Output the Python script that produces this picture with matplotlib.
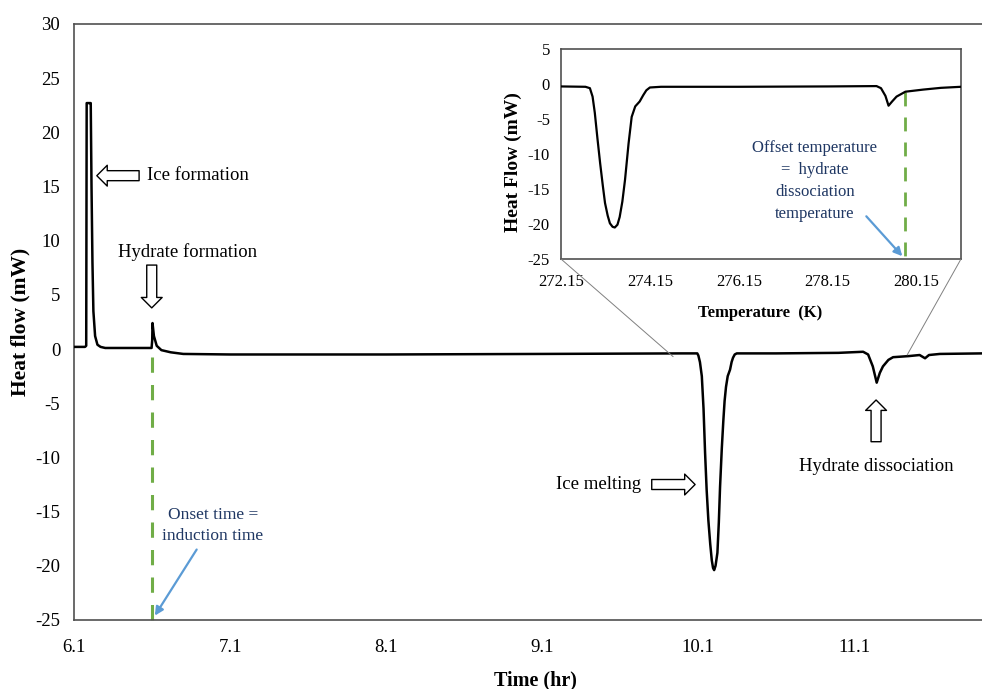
import matplotlib
matplotlib.use("Agg")
import matplotlib.pyplot as plt
from matplotlib.patches import ConnectionPatch

plt.rcParams['font.family'] = ['Liberation Serif', 'DejaVu Serif']
plt.rcParams['axes.unicode_minus'] = False

# ---------------- data ----------------
time_hr = [6.10, 6.17, 6.178, 6.181, 6.205, 6.207, 6.212, 6.218, 6.224, 6.235, 6.25, 6.27, 6.30,
           6.40, 6.50, 6.597, 6.601, 6.603, 6.612, 6.63, 6.66, 6.72, 6.80, 7.10, 8.10, 9.10,
           10.00, 10.095, 10.102, 10.112, 10.124, 10.135, 10.145, 10.155, 10.166, 10.178,
           10.188, 10.196, 10.203, 10.212, 10.224, 10.233, 10.241, 10.252, 10.262, 10.27,
           10.279, 10.29, 10.305, 10.315, 10.324, 10.335, 10.348, 10.60, 11.00, 11.158,
           11.19, 11.22, 11.245, 11.265, 11.285, 11.32, 11.35, 11.45, 11.52, 11.555, 11.58,
           11.65, 11.92]
heat_flow = [0.2, 0.2, 0.3, 22.7, 22.7, 22.7, 15.0, 8.0, 3.5, 1.2, 0.4, 0.2, 0.1,
             0.1, 0.1, 0.1, 0.8, 2.4, 1.2, 0.3, -0.1, -0.3, -0.45, -0.5, -0.5, -0.45,
             -0.4, -0.4, -0.6, -1.2, -2.5, -5.5, -9.6, -13.0, -15.8, -18.0,
             -19.5, -20.2, -20.4, -20.0, -18.8, -16.0, -12.7, -9.2, -6.6, -4.8,
             -3.5, -2.5, -1.9, -1.2, -0.8, -0.5, -0.4, -0.4, -0.35, -0.25,
             -0.5, -1.6, -3.1, -2.2, -1.6, -1.0, -0.75, -0.65, -0.55, -0.85, -0.55,
             -0.45, -0.4]

temp_K = [272.15, 272.70, 272.80, 272.86, 272.91, 272.97, 273.03, 273.09, 273.14, 273.20,
          273.25, 273.31, 273.36, 273.42, 273.47, 273.53, 273.59, 273.67, 273.74, 273.82,
          273.92, 274.00, 274.07, 274.15, 274.40, 276.15, 278.15, 279.25, 279.35, 279.45,
          279.52, 279.60, 279.70, 279.90, 280.30, 280.70, 281.15]
inset_flow = [-0.35, -0.4, -0.6, -1.8, -4.1, -7.8, -11.3, -14.5, -17.0, -18.8,
              -19.9, -20.4, -20.5, -20.1, -19.0, -16.8, -13.7, -8.5, -4.7, -3.2,
              -2.5, -1.6, -0.9, -0.5, -0.4, -0.4, -0.35, -0.3, -0.6, -1.7,
              -3.1, -2.5, -1.8, -1.1, -0.8, -0.55, -0.4]

main_xticks = [6.1, 7.1, 8.1, 9.1, 10.1, 11.1]
main_yticks = [-25, -20, -15, -10, -5, 0, 5, 10, 15, 20, 25, 30]
inset_xticks = [272.15, 274.15, 276.15, 278.15, 280.15]
inset_yticks = [-25, -20, -15, -10, -5, 0, 5]

onset_time = 6.60
offset_temp = 279.90

# ---------------- figure ----------------
fig = plt.figure(figsize=(9.82, 6.89), dpi=100)
ax = fig.add_axes([0.0754, 0.1002, 0.9246, 0.865])

ax.plot(time_hr, heat_flow, color='black', lw=1.8, zorder=3, solid_joinstyle='round')
ax.set_xlim(6.1, 11.92)
ax.set_ylim(-25, 30)
ax.set_xticks(main_xticks)
ax.set_xticklabels([f"{v:.1f}" for v in main_xticks])
ax.set_yticks(main_yticks)
ax.tick_params(axis='both', length=0, labelsize=13.5)
ax.tick_params(axis='x', pad=14)
ax.tick_params(axis='y', pad=10)
for s in ['left', 'bottom', 'top']:
    ax.spines[s].set_color('#505050')
    ax.spines[s].set_linewidth(1.2)
ax.spines['right'].set_visible(False)
fig.text(535 / 982, 1 - 680 / 689, 'Time (hr)', fontsize=14.5, fontweight='bold',
         ha='center', va='center')
fig.text(20 / 982, 1 - 322 / 689, 'Heat flow (mW)', fontsize=15.5, fontweight='bold',
         ha='center', va='center', rotation=90)

# green dashed onset line
ax.plot([onset_time, onset_time], [-0.7, -25.9], color='#70AD47', lw=2.2,
        dashes=(5, 4), clip_on=False, zorder=2)

# hollow block arrows
def block_arrow(a, tail, head):
    a.annotate('', xy=head, xytext=tail, zorder=5,
               arrowprops=dict(arrowstyle='simple,head_length=0.75,head_width=1.5,tail_width=0.72',
                               mutation_scale=10, fc='white', ec='black', lw=1.0,
                               shrinkA=0, shrinkB=0))

block_arrow(ax, (6.517, 16.0), (6.246, 16.0))
ax.text(6.568, 16.0, 'Ice formation', fontsize=13.5, va='center', ha='left')

block_arrow(ax, (6.598, 7.75), (6.598, 3.8))
ax.text(6.83, 8.95, 'Hydrate formation', fontsize=13.5, va='center', ha='center')

block_arrow(ax, (9.803, -12.5), (10.081, -12.5))
ax.text(9.735, -12.5, 'Ice melting', fontsize=13.5, va='center', ha='right')

block_arrow(ax, (11.241, -8.55), (11.241, -4.7))
ax.text(11.24, -10.8, 'Hydrate dissociation', fontsize=13.5, va='center', ha='center')

# onset text + blue arrow
navy = '#1F3763'
blue = '#5B9BD5'
ax.text(6.99, -16.3, 'Onset time =\ninduction time', fontsize=12.5, color=navy,
        ha='center', va='center', linespacing=1.45)
ax.annotate('', xy=(6.618, -24.6), xytext=(6.886, -18.5),
            arrowprops=dict(arrowstyle='-|>,head_length=0.5,head_width=0.25', color=blue,
                            lw=1.6, shrinkA=0, shrinkB=0))

# ---------------- inset ----------------
ax_in = fig.add_axes([0.5713, 0.6241, 0.4073, 0.3048])
ax_in.plot(temp_K, inset_flow, color='black', lw=1.6, zorder=3, solid_joinstyle='round')
ax_in.set_xlim(272.15, 281.15)
ax_in.set_ylim(-25, 5)
ax_in.set_xticks(inset_xticks)
ax_in.set_xticklabels([f"{v:.2f}" for v in inset_xticks])
ax_in.set_yticks(inset_yticks)
ax_in.tick_params(axis='both', length=0, labelsize=12)
ax_in.tick_params(axis='x', pad=11)
ax_in.tick_params(axis='y', pad=8)
for s in ax_in.spines.values():
    s.set_color('#505050')
    s.set_linewidth(1.2)
fig.text(760 / 982, 1 - 313 / 689, 'Temperature  (K)', fontsize=12, fontweight='bold',
         ha='center', va='center')
fig.text(513 / 982, 1 - 162 / 689, 'Heat Flow (mW)', fontsize=14, fontweight='bold',
         ha='center', va='center', rotation=90)

ax_in.plot([offset_temp, offset_temp], [-1.1, -25], color='#70AD47', lw=2.0,
           dashes=(5, 4), zorder=2)
ax_in.text(277.86, -13.8, 'Offset temperature\n=  hydrate\ndissociation\ntemperature',
           fontsize=12, color=navy, ha='center', va='center', linespacing=1.5)
ax_in.annotate('', xy=(279.83, -24.6), xytext=(279.02, -18.9),
               arrowprops=dict(arrowstyle='-|>,head_length=0.5,head_width=0.25', color=blue,
                               lw=1.6, shrinkA=0, shrinkB=0))

# connector lines from inset to main curve
for corner, target in [((0, 0), (9.94, -0.7)), ((1, 0), (11.44, -0.55))]:
    cp = ConnectionPatch(xyA=corner, coordsA=ax_in.transAxes, xyB=target, coordsB=ax.transData,
                         color='#808080', lw=0.7)
    fig.add_artist(cp)

fig.savefig('out.png', dpi=100)
